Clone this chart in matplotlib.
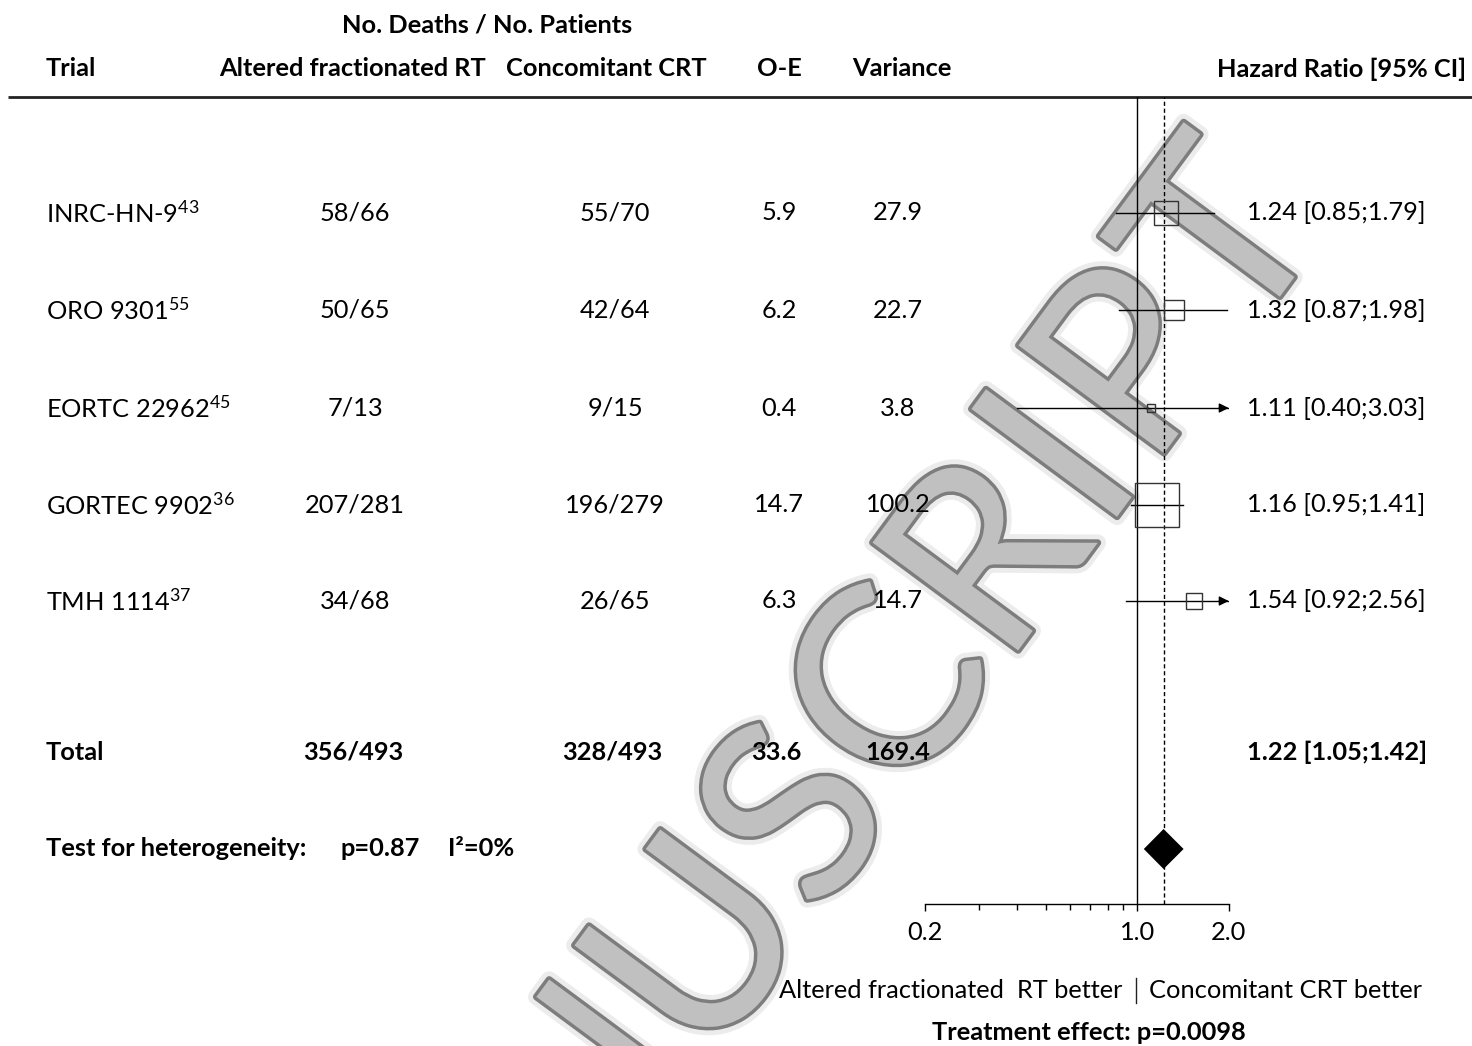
import numpy as np
import matplotlib
matplotlib.use('Agg')
import matplotlib.pyplot as plt
import matplotlib.patheffects as pe
from matplotlib.ticker import FixedLocator, NullFormatter
from matplotlib.textpath import TextToPath
from matplotlib.font_manager import FontProperties

plt.rcParams['font.family'] = ['Lato', 'DejaVu Sans']
plt.rcParams['mathtext.fontset'] = 'custom'
plt.rcParams['mathtext.rm'] = 'Lato'
plt.rcParams['mathtext.it'] = 'Lato'
plt.rcParams['mathtext.bf'] = 'Lato:bold'

# Trial data
trials = ['INRC-HN-9', 'ORO 9301', 'EORTC 22962', 'GORTEC 9902', 'TMH 1114']
refs = ['43', '55', '45', '36', '37']
af_deaths = [58, 50, 7, 207, 34]
af_pts = [66, 65, 13, 281, 68]
crt_deaths = [55, 42, 9, 196, 26]
crt_pts = [70, 64, 15, 279, 65]
oe = [5.9, 6.2, 0.4, 14.7, 6.3]
variance = [27.9, 22.7, 3.8, 100.2, 14.7]
hr = [1.24, 1.32, 1.11, 1.16, 1.54]
hr_lo = [0.85, 0.87, 0.40, 0.95, 0.92]
hr_hi = [1.79, 1.98, 3.03, 1.41, 2.56]

# Totals
tot_af = (356, 493)
tot_crt = (328, 493)
tot_oe = 33.6
tot_var = 169.4
tot_hr, tot_lo, tot_hi = 1.22, 1.05, 1.42
het_p = 0.87
i2 = 0
effect_p = 0.0098

W, H = 1472, 1046
fig = plt.figure(figsize=(W / 100, H / 100), dpi=100, facecolor='w')

# background axes in pixel units, used for the table text
tab = fig.add_axes([0, 0, 1, 1])
tab.set_xlim(0, W)
tab.set_ylim(H, 0)
tab.axis('off')

row_y = [213, 310, 408, 505, 601]
tot_y = 752
het_y = 849
top_y, axis_y = 97, 904
x_lo, x_hi = 925.3, 1228.7

fs = 18.3

# watermark, placed letter by letter along a rotated baseline
word = 'MANUSCRIPT'
wm_fp = FontProperties(family='Lato', size=182)
ttp = TextToPath()
ink = np.array([ttp.get_text_width_height_descent(c, wm_fp, ismath=False)[0] * 100 / 72
                for c in word])
gap = 0.1 * 182 * 100 / 72
centers = np.cumsum(ink + gap) - (ink + gap) / 2
iu, it = word.index('U'), word.index('T')
k = 881 / (centers[it] - centers[iu])
ang = 53.5
u = np.array([np.cos(np.radians(ang)), -np.sin(np.radians(ang))])
t_base = np.array([1287, 287])
for i, c in enumerate(word):
    px, py = t_base + (centers[i] - centers[it]) * k * u
    tab.text(px, py, c, rotation=ang, rotation_mode='anchor', ha='center',
             va='baseline', fontproperties=wm_fp, color='#c0c0c0', zorder=0,
             path_effects=[pe.Stroke(linewidth=12, foreground='#ececec'),
                           pe.Stroke(linewidth=5, foreground='#7d7d7d'),
                           pe.Normal()])

# headers
tab.text(487, 25, 'No. Deaths / No. Patients', ha='center', va='center',
         fontsize=fs, fontweight='bold')
tab.text(46, 69, 'Trial', ha='left', va='center', fontsize=fs, fontweight='bold')
tab.text(353, 69, 'Altered fractionated RT', ha='center', va='center',
         fontsize=fs, fontweight='bold')
tab.text(606, 69, 'Concomitant CRT', ha='center', va='center',
         fontsize=fs, fontweight='bold')
tab.text(779, 69, 'O-E', ha='center', va='center', fontsize=fs, fontweight='bold')
tab.text(902, 69, 'Variance', ha='center', va='center', fontsize=fs, fontweight='bold')
tab.text(1466, 69, 'Hazard Ratio [95% CI]', ha='right', va='center',
         fontsize=fs, fontweight='bold')
tab.plot([8, W], [top_y, top_y], color='#222222', lw=2, solid_capstyle='butt')

# trial rows
for i, y in enumerate(row_y):
    tab.text(46, y, trials[i] + r'$^{\mathregular{' + refs[i] + '}}$',
             ha='left', va='center', fontsize=fs)
    tab.text(355, y, f'{af_deaths[i]}/{af_pts[i]}', ha='center', va='center', fontsize=fs)
    tab.text(615, y, f'{crt_deaths[i]}/{crt_pts[i]}', ha='center', va='center', fontsize=fs)
    tab.text(779, y, f'{oe[i]:.1f}', ha='center', va='center', fontsize=fs)
    tab.text(898, y, f'{variance[i]:.1f}', ha='center', va='center', fontsize=fs)
    tab.text(1247, y, f'{hr[i]:.2f} [{hr_lo[i]:.2f};{hr_hi[i]:.2f}]',
             ha='left', va='center', fontsize=fs)

# total row
tab.text(46, tot_y, 'Total', ha='left', va='center', fontsize=fs, fontweight='bold')
tab.text(353, tot_y, f'{tot_af[0]}/{tot_af[1]}', ha='center', va='center',
         fontsize=fs, fontweight='bold')
tab.text(612, tot_y, f'{tot_crt[0]}/{tot_crt[1]}', ha='center', va='center',
         fontsize=fs, fontweight='bold')
tab.text(776, tot_y, f'{tot_oe:.1f}', ha='center', va='center', fontsize=fs, fontweight='bold')
tab.text(898, tot_y, f'{tot_var:.1f}', ha='center', va='center', fontsize=fs, fontweight='bold')
tab.text(1247, tot_y, f'{tot_hr:.2f} [{tot_lo:.2f};{tot_hi:.2f}]', ha='left',
         va='center', fontsize=fs, fontweight='bold')

# heterogeneity
tab.text(46, het_y, 'Test for heterogeneity:', ha='left', va='center',
         fontsize=fs, fontweight='bold')
tab.text(340, het_y, f'p={het_p:.2f}', ha='left', va='center', fontsize=fs, fontweight='bold')
tab.text(448, het_y, f'I\u00b2={i2}%', ha='left', va='center', fontsize=fs, fontweight='bold')

# bottom labels
tab.text(1122, 990, 'Altered fractionated  RT better', ha='right', va='center', fontsize=fs)
tab.text(1149, 990, 'Concomitant CRT better', ha='left', va='center', fontsize=fs)
tab.plot([1136, 1136], [978, 1003], color='#222222', lw=1)
tab.text(1089, 1032, f'Treatment effect: p={effect_p}', ha='center', va='center',
         fontsize=fs, fontweight='bold')

# forest axes
ax = fig.add_axes([x_lo / W, (H - axis_y) / H, (x_hi - x_lo) / W, (axis_y - top_y) / H])
ax.set_facecolor('none')
ax.set_xscale('log')
ax.set_xlim(0.2, 2.0)
ax.set_ylim(axis_y, top_y)
for s in ('top', 'right', 'left'):
    ax.spines[s].set_visible(False)
ax.spines['bottom'].set_linewidth(1)
ax.set_yticks([])
ax.xaxis.set_major_locator(FixedLocator([0.2, 1.0, 2.0]))
ax.set_xticklabels(['0.2', '1.0', '2.0'])
ax.xaxis.set_minor_locator(FixedLocator([0.3, 0.4, 0.5, 0.6, 0.7, 0.8, 0.9]))
ax.xaxis.set_minor_formatter(NullFormatter())
ax.tick_params(axis='x', which='major', length=5, width=1, labelsize=fs, pad=7)
ax.tick_params(axis='x', which='minor', length=4, width=1)

ax.axvline(1.0, color='black', lw=1)
ax.axvline(tot_hr, color='black', lw=1, ls=(0, (3, 2)))

xmax = ax.get_xlim()[1]
for i, y in enumerate(row_y):
    if hr_hi[i] > xmax:
        ax.plot([hr_lo[i], xmax], [y, y], color='black', lw=1)
        ax.annotate('', xy=(xmax, y), xytext=(xmax * 0.93, y),
                    arrowprops=dict(arrowstyle='-|>', color='black', lw=1,
                                    mutation_scale=14, shrinkA=0, shrinkB=0),
                    annotation_clip=False)
    else:
        ax.plot([hr_lo[i], hr_hi[i]], [y, y], color='black', lw=1)
    side = 4.4 * np.sqrt(variance[i]) * 0.72
    ax.plot(hr[i], y, marker='s', ms=side, mfc='none', mec='#333333', mew=1)

# pooled diamond
ax.fill([tot_lo, tot_hr, tot_hi, tot_hr], [het_y, het_y - 20, het_y, het_y + 20],
        color='black', lw=0)

fig.savefig('out.png', dpi=100)
